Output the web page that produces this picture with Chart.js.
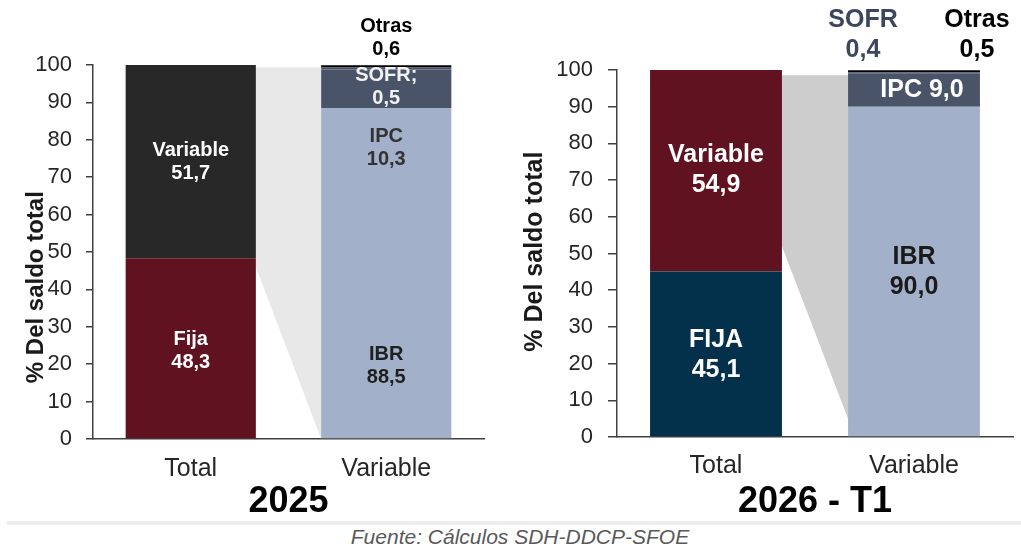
<!DOCTYPE html>
<html lang="es">
<head>
<meta charset="utf-8">
<title>Saldo por tipo de tasa</title>
<script src="https://cdn.jsdelivr.net/npm/chart.js@4.4.1/dist/chart.umd.min.js"></script>
<style>
    html, body { margin: 0; padding: 0; background: #fff; }
    #lienzo { position: relative; width: 1021px; height: 549px; overflow: hidden; }
    #panel2025 { position: absolute; left: 0; top: 0; }
    #panel2026 { position: absolute; left: 505px; top: 0; }
    #banda { position: absolute; left: 7px; top: 521px; width: 1014px; height: 4px; background: #eeeeee; }
    #fuente {
        position: absolute; left: 0; width: 1040px; top: 525px; text-align: center;
        font: italic 21px 'Liberation Sans', Arial, sans-serif; color: #595959;
    }
</style>
</head>
<body>
<div id="lienzo">
    <canvas id="panel2025" width="505" height="520"></canvas>
    <canvas id="panel2026" width="516" height="520"></canvas>
    <div id="banda"></div>
    <div id="fuente">Fuente: Cálculos SDH-DDCP-SFOE</div>
</div>
<script>
// Datos (% del saldo total)
const categorias = ['Total', 'Variable'];
const ticksY = [0, 10, 20, 30, 40, 50, 60, 70, 80, 90, 100];

// 2025
const fija2025 = [48.3, null];
const variable2025 = [51.7, null];
const ibr2025 = [null, 88.5];
const ipc2025 = [null, 10.3];
const sofr2025 = [null, 0.5];
const otras2025 = [null, 0.6];

// 2026 - T1
const fija2026 = [45.1, null];
const variable2026 = [54.9, null];
const ibr2026 = [null, 90.0];
const ipc2026 = [null, 9.0];
const sofr2026 = [null, 0.4];
const otras2026 = [null, 0.5];

const FUENTE = "'Liberation Sans', Arial, sans-serif";
Chart.defaults.font.family = FUENTE;
Chart.defaults.color = '#262626';

function fmt(v) {
    return v.toFixed(1).replace('.', ',');
}

// Conector gris entre la parte variable del total y la barra de composición
const conectorPlugin = {
    id: 'conector',
    beforeDatasetsDraw(chart, args, opts) {
        const y = chart.scales.y;
        const total = chart.getDatasetMeta(0).data[0];
        const varBar = chart.getDatasetMeta(2).data[1];
        const x1 = total.x + total.width / 2;
        const x2 = varBar.x - varBar.width / 2;
        const ctx = chart.ctx;
        ctx.save();
        ctx.fillStyle = opts.color;
        ctx.beginPath();
        ctx.moveTo(x1, y.getPixelForValue(opts.arriba));
        ctx.lineTo(x2, y.getPixelForValue(opts.arriba));
        ctx.lineTo(x2, y.getPixelForValue(opts.abajoDer));
        ctx.lineTo(x1, y.getPixelForValue(opts.abajoIzq));
        ctx.closePath();
        ctx.fill();
        ctx.restore();
    }
};

// Etiquetas de texto dentro y encima de las barras
const etiquetasPlugin = {
    id: 'etiquetas',
    afterDatasetsDraw(chart, args, opts) {
        const ctx = chart.ctx;
        const x = chart.scales.x;
        const y = chart.scales.y;
        ctx.save();
        ctx.textAlign = 'center';
        ctx.textBaseline = 'middle';
        ctx.font = 'bold ' + opts.size + 'px ' + FUENTE;
        opts.items.forEach(e => {
            const px = x.getPixelForValue(e.cat) + (e.dx || 0);
            const py = y.getPixelForValue(e.v);
            ctx.fillStyle = e.color;
            const n = e.text.length;
            e.text.forEach((t, i) => {
                ctx.fillText(t, px, py + (i - (n - 1) / 2) * opts.lineHeight);
            });
        });
        // Título del eje Y
        ctx.translate(opts.tituloX, y.getPixelForValue(opts.tituloV));
        ctx.rotate(-Math.PI / 2);
        ctx.font = 'bold ' + opts.tituloSize + 'px ' + FUENTE;
        ctx.fillStyle = '#1a1a1a';
        ctx.fillText('% Del saldo total', 0, 0);
        ctx.restore();
    }
};

function crearPanel(idCanvas, titulo, series, cfg) {
    const colores = cfg.colores;
    const nombres = ['Fija', 'Variable', 'IBR', 'IPC', 'SOFR', 'Otras'];
    new Chart(document.getElementById(idCanvas), {
        type: 'bar',
        data: {
            labels: categorias,
            datasets: series.map((s, i) => ({
                label: nombres[i],
                data: s,
                backgroundColor: colores[i],
                borderWidth: 0,
                barPercentage: 1,
                categoryPercentage: 0.666
            }))
        },
        options: {
            responsive: false,
            animation: false,
            devicePixelRatio: 1,
            layout: { padding: { top: cfg.top, right: cfg.right, left: 0, bottom: 0 } },
            scales: {
                x: {
                    stacked: true,
                    grid: { display: false, drawTicks: false },
                    border: { color: '#404040', width: 1.5 },
                    ticks: { font: { size: 25 }, padding: cfg.xPad, color: '#262626' },
                    title: {
                        display: true,
                        text: titulo,
                        font: { size: 36, weight: 'bold', lineHeight: 1 },
                        color: '#000',
                        padding: { top: 0, bottom: cfg.tituloPad }
                    },
                    afterFit: s => { s.height = cfg.altoX; }
                },
                y: {
                    stacked: true,
                    min: 0,
                    max: 100,
                    afterBuildTicks: s => { s.ticks = ticksY.map(v => ({ value: v })); },
                    grid: { drawOnChartArea: false, tickLength: cfg.tickLen, color: '#404040', lineWidth: 1.5 },
                    border: { color: '#404040', width: 1.5 },
                    ticks: { font: { size: 22 }, padding: cfg.yPad, color: '#262626' },
                    afterFit: s => { s.width = cfg.anchoY; }
                }
            },
            plugins: {
                legend: { display: false },
                tooltip: { enabled: false },
                conector: cfg.conector,
                etiquetas: cfg.etiquetas
            }
        },
        plugins: [conectorPlugin, etiquetasPlugin]
    });
}

crearPanel('panel2025', '2025',
    [fija2025, variable2025, ibr2025, ipc2025, sofr2025, otras2025],
    {
        colores: ['#601220', '#282828', '#a2b0ca', '#4a5468', '#4a5468', '#000000'],
        top: 65, right: 21, anchoY: 93, altoX: 81, tickLen: 7, yPad: 14, xPad: 15, tituloPad: 0,
        conector: { color: '#e8e8e8', arriba: 99.4, abajoIzq: 46, abajoDer: 0 },
        etiquetas: {
            size: 20, lineHeight: 23, tituloX: 36, tituloV: 40.6, tituloSize: 24,
            items: [
                { cat: 0, v: 74.2, color: '#ffffff', text: ['Variable', fmt(variable2025[0])] },
                { cat: 0, v: 23.6, color: '#ffffff', text: ['Fija', fmt(fija2025[0])] },
                { cat: 1, v: 107.3, color: '#000000', text: ['Otras', fmt(otras2025[1])] },
                { cat: 1, v: 94, color: '#f2f2f2', text: ['SOFR;', fmt(sofr2025[1])] },
                { cat: 1, v: 77.7, color: '#333333', text: ['IPC', fmt(ipc2025[1])] },
                { cat: 1, v: 19.4, color: '#1f1f1f', text: ['IBR', fmt(ibr2025[1])] }
            ]
        }
    });

crearPanel('panel2026', '2026 - T1',
    [fija2026, variable2026, ibr2026, ipc2026, sofr2026, otras2026],
    {
        colores: ['#03304a', '#601220', '#a2b0ca', '#4a5468', '#4a5468', '#000000'],
        top: 70, right: 8, anchoY: 112, altoX: 83, tickLen: 9, yPad: 15, xPad: 14, tituloPad: 0,
        conector: { color: '#cdcdcd', arriba: 98.6, abajoIzq: 52, abajoDer: 5 },
        etiquetas: {
            size: 25, lineHeight: 30, tituloX: 30, tituloV: 50.5, tituloSize: 25,
            items: [
                { cat: 0, v: 72.8, color: '#ffffff', text: ['Variable', fmt(variable2026[0])] },
                { cat: 0, v: 22.3, color: '#ffffff', text: ['FIJA', fmt(fija2026[0])] },
                { cat: 1, v: 109.5, dx: -51, color: '#3c465e', text: ['SOFR', fmt(sofr2026[1])] },
                { cat: 1, v: 109.5, dx: 63, color: '#000000', text: ['Otras', fmt(otras2026[1])] },
                { cat: 1, v: 94.5, dx: 8, color: '#ffffff', text: ['IPC ' + fmt(ipc2026[1])] },
                { cat: 1, v: 44.8, color: '#1a1a1a', text: ['IBR', fmt(ibr2026[1])] }
            ]
        }
    });
</script>
</body>
</html>
